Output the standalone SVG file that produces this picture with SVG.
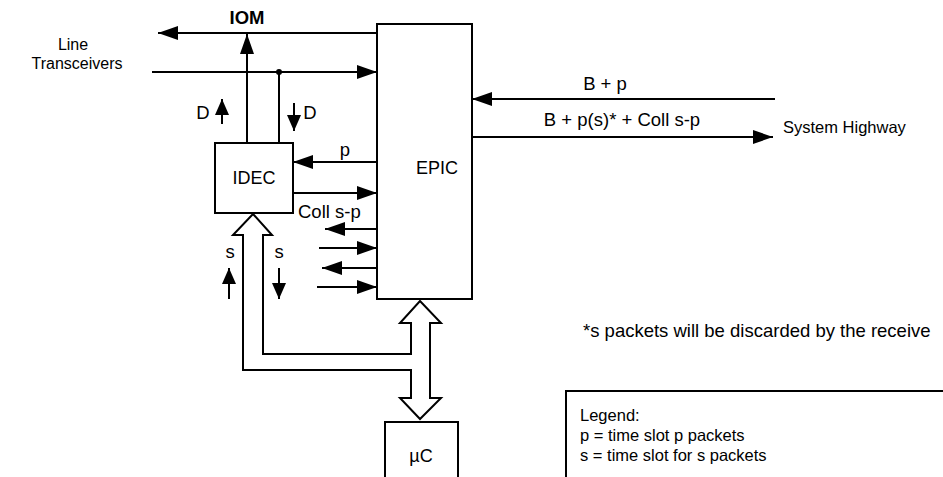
<svg xmlns="http://www.w3.org/2000/svg" width="943" height="477" viewBox="0 0 943 477">
<style>
text{font-family:"Liberation Sans",Arial,sans-serif;font-size:18.5px;fill:#000}
.box{fill:#fff;stroke:#000;stroke-width:2}
.ln{fill:none;stroke:#000;stroke-width:2}
.c{text-anchor:middle}
.bl{font-size:18px}
.lg{font-size:16.5px}
.tr{font-size:16px}
</style>
<defs>
<marker id="ah" markerUnits="userSpaceOnUse" markerWidth="22" markerHeight="16" refX="20" refY="7" orient="auto">
<path d="M0,0 L20,7 L0,14 Z" fill="#000"/>
</marker>
<marker id="as" markerUnits="userSpaceOnUse" markerWidth="18" markerHeight="16" refX="16" refY="7" orient="auto">
<path d="M0,0 L16,7 L0,14 Z" fill="#000"/>
</marker>
</defs>
<rect width="943" height="477" fill="#fff"/>

<g id="connectors">
<line class="ln" x1="377" y1="33" x2="158" y2="33" marker-end="url(#ah)"/>
<line class="ln" x1="152" y1="72" x2="377" y2="72" marker-end="url(#ah)"/>
<circle cx="279" cy="72" r="3" fill="#000"/>
<line class="ln" x1="247" y1="143" x2="247" y2="34" marker-end="url(#ah)"/>
<line class="ln" x1="279" y1="72" x2="279" y2="143"/>
<line class="ln" x1="222" y1="124" x2="222" y2="99" marker-end="url(#as)"/>
<line class="ln" x1="294" y1="103" x2="294" y2="131" marker-end="url(#as)"/>
<line class="ln" x1="377" y1="162" x2="293" y2="162" marker-end="url(#ah)"/>
<line class="ln" x1="293" y1="193" x2="377" y2="193" marker-end="url(#ah)"/>
<line class="ln" x1="377" y1="229" x2="325" y2="229" marker-end="url(#ah)"/>
<line class="ln" x1="319" y1="248" x2="377" y2="248" marker-end="url(#ah)"/>
<line class="ln" x1="377" y1="268" x2="322" y2="268" marker-end="url(#ah)"/>
<line class="ln" x1="317" y1="287" x2="377" y2="287" marker-end="url(#ah)"/>
<line class="ln" x1="229" y1="299" x2="229" y2="268" marker-end="url(#as)"/>
<line class="ln" x1="279" y1="268" x2="279" y2="299" marker-end="url(#as)"/>
<line class="ln" x1="775" y1="99" x2="472" y2="99" marker-end="url(#ah)"/>
<line class="ln" x1="472" y1="137" x2="773" y2="137" marker-end="url(#ah)"/>
<path class="ln" d="M253,214 L272,235 L263,235 L263,354 L411,354 L411,323 L400,323 L420,301 L441,323 L430,323 L430,398 L441,398 L420,419 L400,398 L411,398 L411,370 L243,370 L243,235 L233,235 Z"/>
</g>

<g id="EPIC">
<rect class="box" x="377" y="24" width="95" height="275"/>
<text class="c bl" x="437" y="174">EPIC</text>
</g>
<g id="IDEC">
<rect class="box" x="215" y="143" width="78" height="70"/>
<text class="c bl" x="254" y="184">IDEC</text>
</g>
<g id="uC">
<rect class="box" x="385" y="422" width="73" height="70"/>
<text class="c bl" x="421" y="462">µC</text>
</g>
<g id="line-transceivers">
<text class="c tr" x="73" y="50">Line</text>
<text class="c tr" x="77" y="69">Transceivers</text>
</g>
<g id="system-highway">
<text class="lg" x="783" y="133">System Highway</text>
</g>
<g id="labels">
<text class="c" x="247" y="24" font-weight="bold" font-size="20">IOM</text>
<text class="c" x="203" y="119">D</text>
<text class="c" x="310" y="119">D</text>
<text class="c" x="345" y="156">p</text>
<text x="298" y="218">Coll s-p</text>
<text class="c" x="230" y="258">s</text>
<text class="c" x="279" y="258">s</text>
<text class="c" x="605" y="90" font-size="19">B + p</text>
<text class="c" x="622" y="126" font-size="19">B + p(s)* + Coll s-p</text>
<text x="583" y="337" font-size="19">*s packets will be discarded by the receive</text>
</g>
<g id="legend">
<path class="ln" d="M566,480 L566,391 L945,391"/>
<text class="lg" x="580" y="421">Legend:</text>
<text class="lg" x="580" y="441">p = time slot p packets</text>
<text class="lg" x="580" y="461">s = time slot for s packets</text>
</g>
</svg>
